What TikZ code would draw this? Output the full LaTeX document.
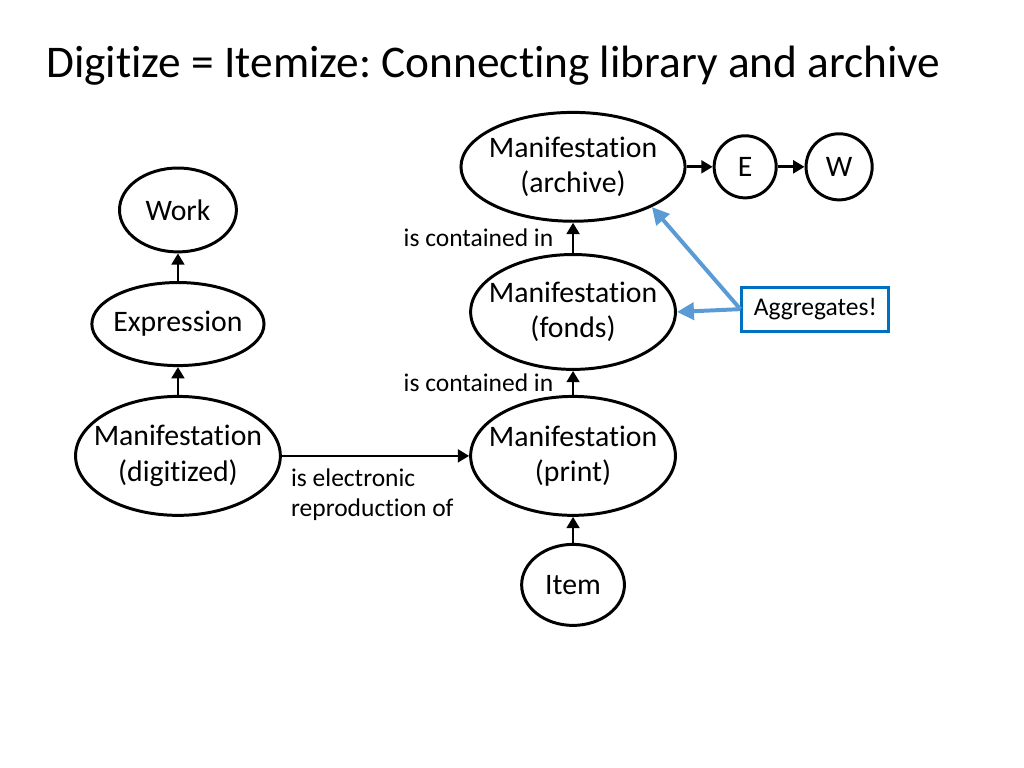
\documentclass[tikz,border=0pt]{standalone}
\usepackage{fontspec}
\setmainfont{Carlito}[Ligatures=NoCommon]
\usetikzlibrary{positioning,shapes.geometric,arrows.meta}
\definecolor{linkblue}{RGB}{91,155,213}
\definecolor{boxblue}{RGB}{0,112,192}
\frenchspacing

\begin{document}
\begin{tikzpicture}[>={Triangle[length=8pt,width=9pt]},node distance=3cm,on grid,
   ent/.style={ellipse,draw,line width=2.1pt,inner xsep=-12pt,inner ysep=0pt,align=center,
               font=\fontsize{21}{25}\selectfont},
   rel/.style={font=\fontsize{18}{21}\selectfont,align=left},
   link/.style={->,line width=1.9pt},
   aggr/.style={-{Triangle[length=12pt,width=12pt]},line width=2.8pt,draw=linkblue}]
   \useasboundingbox (0,0) rectangle (25.4,-19.05);

   \node[anchor=base west,inner sep=0pt,font=\fontsize{32}{38}\selectfont] (title)
      at (1.141,-1.91) {Digitize = Itemize: Connecting library and archive};

   \node[ent,minimum width=2.90cm,minimum height=2.08cm] (work) at (4.414,-5.208) {Work};
   \node[ent,minimum width=4.27cm,minimum height=2.06cm] (expr) [below=2.83cm of work] {Expression};
   \node[ent,minimum width=5.08cm,minimum height=2.95cm] (dig) [below=3.27cm of expr] {Manifestation\\(digitized)};
   \node[ent,minimum width=5.08cm,minimum height=2.95cm] (print) [right=9.80cm of dig] {Manifestation\\(print)};
   \node[ent,minimum width=5.08cm,minimum height=2.85cm] (fonds) [above=3.57cm of print] {Manifestation\\(fonds)};
   \node[ent,minimum width=5.56cm,minimum height=2.70cm] (arch) [above=3.60cm of fonds] {Manifestation\\(archive)};
   \node[ent,minimum width=2.55cm,minimum height=2.01cm] (item) [below=3.20cm of print] {Item};
   \node[ent,minimum width=1.54cm,minimum height=1.54cm] (e) [right=4.27cm of arch] {E};
   \node[ent,minimum width=1.64cm,minimum height=1.64cm] (w) [right=2.33cm of e] {W};
   \node[draw=boxblue,line width=2pt,minimum width=3.65cm,minimum height=1.09cm,
         font=\fontsize{18}{20}\selectfont] (agg) [right=6.01cm of fonds,yshift=0.07cm] {Aggregates!};

   \path[link]
   (expr) edge (work)
   (dig) edge (expr)
   (dig) edge node[rel,pos=0,anchor=north west,xshift=0.08cm,yshift=-0.17cm]
         {is electronic\\reproduction of} (print)
   (item) edge (print)
   (print) edge node[rel,left=0.34cm] {is contained in} (fonds)
   (fonds) edge node[rel,left=0.34cm] {is contained in} (arch)
   (arch) edge (e)
   (e) edge (w);

   \draw[aggr] (agg.west) -- (fonds.east);
   \draw[aggr] (agg.west) -- (arch.-27);
\end{tikzpicture}
\end{document}
